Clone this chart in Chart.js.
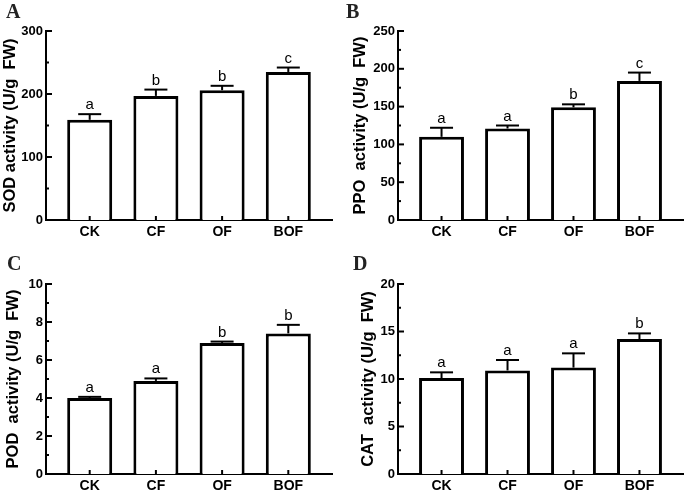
<!DOCTYPE html>
<html>
<head>
<meta charset="utf-8">
<script src="https://cdn.jsdelivr.net/npm/chart.js@4.4.1/dist/chart.umd.min.js"></script>
<style>
  html, body { margin: 0; padding: 0; background: #fff; }
  #figure { position: relative; width: 685px; height: 491px; }
  canvas { position: absolute; }
</style>
</head>
<body>
<div id="figure">
  <canvas id="panel-a" width="342" height="245" style="left:0;top:0"></canvas>
  <canvas id="panel-b" width="343" height="245" style="left:342px;top:0"></canvas>
  <canvas id="panel-c" width="342" height="246" style="left:0;top:245px"></canvas>
  <canvas id="panel-d" width="343" height="246" style="left:342px;top:245px"></canvas>
</div>
<script>
// Data
const categories = ['CK', 'CF', 'OF', 'BOF'];

const sodMeans = [159, 197, 206, 235];
const sodErrors = [9, 10, 7, 7];
const sodLetters = ['a', 'b', 'b', 'c'];

const ppoMeans = [110, 121, 149, 184];
const ppoErrors = [12, 4, 4, 11];
const ppoLetters = ['a', 'a', 'b', 'c'];

const podMeans = [4.0, 4.9, 6.9, 7.4];
const podErrors = [0.06, 0.13, 0.07, 0.45];
const podLetters = ['a', 'a', 'b', 'b'];

const catMeans = [10.1, 10.9, 11.2, 14.2];
const catErrors = [0.6, 1.1, 1.5, 0.6];
const catLetters = ['a', 'a', 'a', 'b'];

Chart.defaults.font.family = '"Liberation Sans", Arial, sans-serif';
Chart.defaults.color = '#000';

const TITLE_SIZE = 16.5;

// Error bars, significance letters, inward ticks and panel letter
const panelExtras = {
    id: 'panelExtras',
    afterDatasetsDraw(chart, args, opts) {
        const { ctx, chartArea } = chart;
        const x = chart.scales.x;
        const y = chart.scales.y;
        ctx.save();
        ctx.strokeStyle = '#000';
        ctx.fillStyle = '#000';
        ctx.lineWidth = 2;

        const line = (x1, y1, x2, y2) => {
            ctx.beginPath();
            ctx.moveTo(x1, y1);
            ctx.lineTo(x2, y2);
            ctx.stroke();
        };

        // x-axis ticks point up into the bars
        categories.forEach((c, i) => {
            const px = x.getPixelForValue(i);
            line(px, chartArea.bottom, px, chartArea.bottom - 4);
        });

        // y-axis major and minor ticks point inward
        y.ticks.forEach((t, i) => {
            const py = y.getPixelForValue(t.value);
            line(chartArea.left, py, chartArea.left + 6, py);
            if (i > 0) {
                const pm = y.getPixelForValue(t.value - opts.step / 2);
                line(chartArea.left, pm, chartArea.left + 3, pm);
            }
        });

        // upper error bars and letters
        const means = chart.data.datasets[0].data.map(p => p.y);
        ctx.font = '15px "Liberation Sans", Arial, sans-serif';
        ctx.textAlign = 'center';
        ctx.textBaseline = 'alphabetic';
        means.forEach((m, i) => {
            const px = x.getPixelForValue(i);
            const top = y.getPixelForValue(m);
            const cap = y.getPixelForValue(m + opts.errors[i]);
            line(px, top, px, cap);
            line(px - 11.5, cap, px + 11.5, cap);
            ctx.fillText(opts.letters[i], px, cap - 5);
        });

        // panel letter
        ctx.fillStyle = '#222';
        ctx.textAlign = 'left';
        ctx.font = 'bold 20px "Liberation Serif", "Times New Roman", serif';
        ctx.fillText(opts.panel, opts.panelX, opts.panelY);
        ctx.restore();
    }
};

function makePanel(id, cfg) {
    const canvas = document.getElementById(id);
    const w = canvas.width;
    const h = canvas.height;
    const a = cfg.area;

    return new Chart(canvas, {
        type: 'bar',
        data: {
            datasets: [{
                data: categories.map((c, i) => ({ x: i, y: cfg.means[i] })),
                backgroundColor: '#fff',
                borderColor: '#000',
                borderWidth: 3,
                borderSkipped: 'start',
                barPercentage: 0.68,
                categoryPercentage: 1
            }]
        },
        options: {
            responsive: false,
            animation: false,
            events: [],
            layout: {
                padding: { left: 0, top: a.top, right: w - a.right, bottom: 0 }
            },
            plugins: {
                legend: { display: false },
                tooltip: { enabled: false },
                panelExtras: {
                    panel: cfg.panel,
                    panelX: cfg.panelX,
                    panelY: cfg.panelY,
                    errors: cfg.errors,
                    letters: cfg.letters,
                    step: cfg.step
                }
            },
            scales: {
                x: {
                    type: 'linear',
                    min: -0.66,
                    max: 3.66,
                    offset: false,
                    z: 1,
                    afterBuildTicks: s => { s.ticks = categories.map((c, i) => ({ value: i })); },
                    afterFit: s => { s.height = h - a.bottom; },
                    grid: { display: false, drawTicks: false, offset: false },
                    border: { display: true, color: '#000', width: 2 },
                    ticks: {
                        autoSkip: false,
                        maxRotation: 0,
                        padding: 4,
                        font: { size: 14, weight: 'bold' },
                        callback: v => categories[v]
                    }
                },
                y: {
                    min: 0,
                    max: cfg.max,
                    afterFit: s => { s.width = a.left; },
                    grid: { display: false, drawTicks: false },
                    border: { display: true, color: '#000', width: 2 },
                    ticks: {
                        stepSize: cfg.step,
                        padding: 3,
                        font: { size: 13, weight: 'bold' }
                    },
                    title: {
                        display: true,
                        text: cfg.title,
                        font: { size: TITLE_SIZE, weight: 'bold' },
                        padding: { top: cfg.titleCenter - TITLE_SIZE * 0.6, bottom: 0 }
                    }
                }
            }
        },
        plugins: [panelExtras]
    });
}

makePanel('panel-a', {
    panel: 'A', panelX: 6, panelY: 18,
    title: 'SOD activity (U/g  FW)', titleCenter: 10.5,
    means: sodMeans, errors: sodErrors, letters: sodLetters,
    max: 300, step: 100,
    area: { left: 46, top: 31, right: 332, bottom: 220 }
});

makePanel('panel-b', {
    panel: 'B', panelX: 4, panelY: 18,
    title: 'PPO  activity (U/g  FW)', titleCenter: 18.5,
    means: ppoMeans, errors: ppoErrors, letters: ppoLetters,
    max: 250, step: 50,
    area: { left: 56, top: 31, right: 341, bottom: 220 }
});

makePanel('panel-c', {
    panel: 'C', panelX: 7, panelY: 25,
    title: 'POD  activity (U/g  FW)', titleCenter: 13.5,
    means: podMeans, errors: podErrors, letters: podLetters,
    max: 10, step: 2,
    area: { left: 46, top: 39, right: 332, bottom: 229 }
});

makePanel('panel-d', {
    panel: 'D', panelX: 11, panelY: 25,
    title: 'CAT  activity (U/g  FW)', titleCenter: 26,
    means: catMeans, errors: catErrors, letters: catLetters,
    max: 20, step: 5,
    area: { left: 56, top: 39, right: 341, bottom: 229 }
});
</script>
</body>
</html>
